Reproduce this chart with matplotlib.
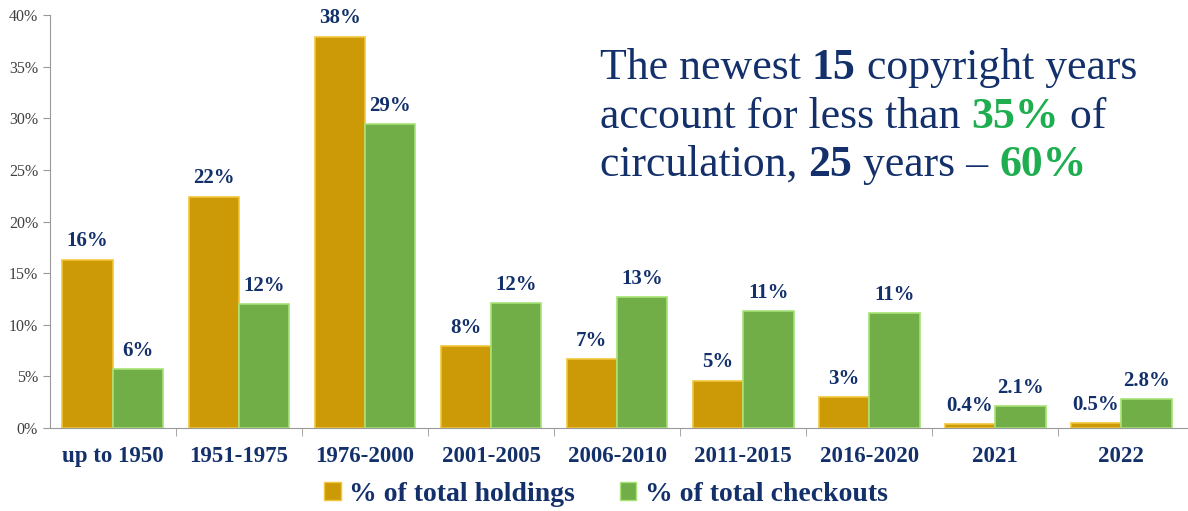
import matplotlib
matplotlib.use("Agg")
import matplotlib.pyplot as plt
import numpy as np
from matplotlib.ticker import FuncFormatter, FixedLocator
from matplotlib.patches import Patch

categories = ["up to 1950", "1951-1975", "1976-2000", "2001-2005", "2006-2010",
              "2011-2015", "2016-2020", "2021", "2022"]
holdings = [16.3, 22.4, 37.9, 7.9, 6.7, 4.6, 3.0, 0.4, 0.5]
checkouts = [5.7, 12.0, 29.4, 12.1, 12.7, 11.3, 11.1, 2.1, 2.8]
holdings_labels = ["16%", "22%", "38%", "8%", "7%", "5%", "3%", "0.4%", "0.5%"]
checkouts_labels = ["6%", "12%", "29%", "12%", "13%", "11%", "11%", "2.1%", "2.8%"]
series_names = ["% of total holdings", "% of total checkouts"]

NAVY = "#13306a"
GREEN_TXT = "#1fae4f"
GOLD = "#cc9a06"
GOLD_EDGE = "#f2c63a"
GREEN = "#72ae48"
GREEN_EDGE = "#a6e276"

plt.rcParams['font.family'] = ['Liberation Serif', 'DejaVu Serif']

fig = plt.figure(figsize=(11.88, 5.11), dpi=100)
ax = fig.add_axes([0.042, 0.1624, 0.958, 0.8082])

x = np.arange(len(categories))
w = 0.4
b1 = ax.bar(x - w/2, holdings, w, color=GOLD, edgecolor=GOLD_EDGE, linewidth=1.2)
b2 = ax.bar(x + w/2, checkouts, w, color=GREEN, edgecolor=GREEN_EDGE, linewidth=1.2)

for rect, lab in zip(b1, holdings_labels):
    ax.annotate(lab, (rect.get_x() + rect.get_width()/2, rect.get_height()),
                xytext=(0, 6), textcoords="offset points", ha="center", va="bottom",
                fontsize=15, fontweight="bold", color=NAVY)
for rect, lab in zip(b2, checkouts_labels):
    ax.annotate(lab, (rect.get_x() + rect.get_width()/2, rect.get_height()),
                xytext=(0, 6), textcoords="offset points", ha="center", va="bottom",
                fontsize=15, fontweight="bold", color=NAVY)

ax.set_xlim(-0.5, len(categories) - 0.5 + 0.03)
ax.set_ylim(0, 40)
ax.set_yticks(np.arange(0, 41, 5))
ax.yaxis.set_major_formatter(FuncFormatter(lambda v, p: f"{int(v)}%"))
ax.tick_params(axis="y", labelsize=11.5, labelcolor="#404040", color="#999999", length=5)

ax.set_xticks(x)
ax.set_xticklabels(categories, fontsize=16.5, fontweight="bold", color=NAVY)
ax.tick_params(axis="x", length=0, pad=13)
ax.xaxis.set_minor_locator(FixedLocator(np.arange(0.5, len(categories) - 1, 1)))
ax.tick_params(axis="x", which="minor", length=6, color="#999999")

for s in ["top", "right"]:
    ax.spines[s].set_visible(False)
for s in ["left", "bottom"]:
    ax.spines[s].set_color("#999999")

handles = [Patch(facecolor=GOLD, edgecolor=GOLD_EDGE), Patch(facecolor=GREEN, edgecolor=GREEN_EDGE)]
fig.legend(handles, series_names, loc="center", bbox_to_anchor=(0.51, 0.033), ncol=2,
           frameon=False, prop={"family": "Liberation Serif", "weight": "bold", "size": 20},
           labelcolor=NAVY, handlelength=0.6, handleheight=0.6, handletextpad=0.3,
           columnspacing=1.6)

# Annotation text with mixed styles
FS = 31.5
lines = [
    [("The newest ", NAVY, "normal"), ("15", NAVY, "bold"), (" copyright years", NAVY, "normal")],
    [("account for less than ", NAVY, "normal"), ("35%", GREEN_TXT, "bold"), (" of", NAVY, "normal")],
    [("circulation, ", NAVY, "normal"), ("25", NAVY, "bold"), (" years \u2013 ", NAVY, "normal"), ("60%", GREEN_TXT, "bold")],
]
y_positions = [0.845, 0.750, 0.656]
for ypos, parts in zip(y_positions, lines):
    prev = None
    for txt, col, wt in parts:
        if prev is None:
            prev = fig.text(0.505, ypos, txt, color=col, fontweight=wt, fontsize=FS,
                            ha="left", va="baseline")
        else:
            prev = ax.annotate(txt, xy=(1, 0), xycoords=prev, ha="left", va="bottom",
                               color=col, fontweight=wt, fontsize=FS,
                               annotation_clip=False)

fig.savefig("out.png", dpi=100)
